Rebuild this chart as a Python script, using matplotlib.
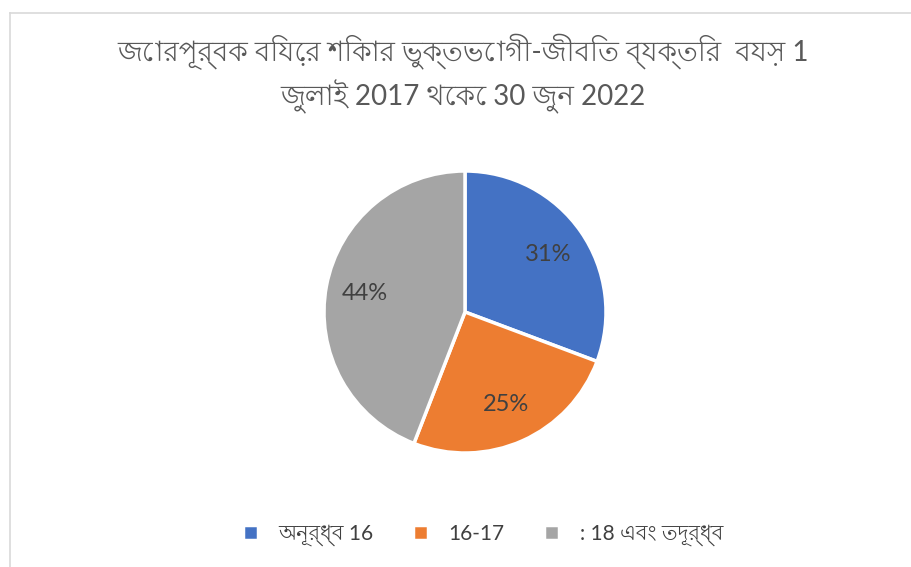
import matplotlib.pyplot as plt
from matplotlib import font_manager
from matplotlib.lines import Line2D

# --- Daten ---
labels = ["অনূর্ধ্ব 16", "16-17", ": 18 এবং তদূর্ধ্ব"]
values = [30.7, 25.2, 44.1]
colors = ["#4472C4", "#ED7D31", "#A5A5A5"]
title = "জোরপূর্বক বিয়ের শিকার ভুক্তভোগী-জীবিত ব্যক্তির  বয়স 1\nজুলাই 2017 থেকে 30 জুন 2022"

# --- Schrift: Lato für Ziffern, Bengali-Schrift als Fallback ---
families = ["Lato"]
for f in font_manager.fontManager.ttflist:
    if "Bengali" in f.name or "Vrinda" in f.name or "Lohit" in f.name:
        families.append(f.name)
        break
families += ["DejaVu Sans"]
plt.rcParams["font.family"] = families

fig = plt.figure(figsize=(9.11, 5.67), dpi=100)
W, H = 911, 567

# Rahmen
fig.add_artist(Line2D([10 / W, 10 / W], [0, 1 - 13 / H], color="#D9D9D9", lw=1.2))
fig.add_artist(Line2D([10 / W, 1], [1 - 13 / H, 1 - 13 / H], color="#D9D9D9", lw=1.2))

# Kreisdiagramm
cx, cy, r = 465, 312, 141
pad = 1.02
ax = fig.add_axes([(cx - r * pad) / W, (H - cy - r * pad) / H, 2 * r * pad / W, 2 * r * pad / H])
wedges, texts, autotexts = ax.pie(values, colors=colors, startangle=90, counterclock=False,
                                  autopct="%.0f%%", pctdistance=0.72,
                                  wedgeprops=dict(edgecolor="white", linewidth=2.5),
                                  textprops=dict(color="#404040", fontsize=17))
ax.set_xlim(-pad, pad)
ax.set_ylim(-pad, pad)
ax.set_aspect("equal")

fig.text(463 / W, 1 - 74 / H, title, ha="center", va="center", fontsize=20,
         color="#595959", linespacing=1.35)

leg = fig.legend(wedges, labels, loc="center", bbox_to_anchor=(483 / W, 1 - 535 / H),
                 ncol=3, frameon=False, fontsize=15, handlelength=0.7, handleheight=0.7,
                 columnspacing=1.9, handletextpad=1.0, labelcolor="#404040")

plt.savefig("out.png", dpi=100)
plt.close()
